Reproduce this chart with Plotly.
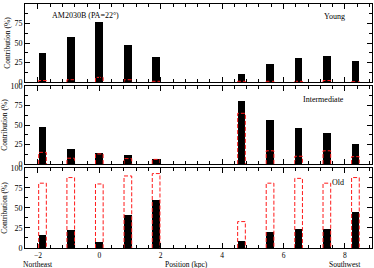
import plotly.graph_objects as go

positions = [-1.85, -0.93, 0.0, 0.93, 1.85, 4.63, 5.56, 6.49, 7.41, 8.34]
young_total = [37, 58, 77, 47, 32, 10, 23, 31, 33, 27]
young_red = [2, 3, 6, 3, 1, 1, 1, 1, 2, 0.5]
inter_total = [47, 19, 14, 12, 6.5, 81, 56, 46, 40, 26]
inter_red = [15, 7.5, 13, 7, 6, 65, 17, 10, 17, 9.5]
old_total = [16, 22, 8, 41, 60, 8.5, 20, 24, 24, 45]
old_red = [81, 88, 80, 90, 93, 33, 81, 87, 81, 88]
panel_labels = ["Young", "Intermediate", "Old"]
y_ticks = [0, 25, 50, 75, 100]
x_ticks = [-2, 0, 2, 4, 6, 8]

BAR_W = 0.25
FONT = "Liberation Serif"

fig = go.Figure()
panels = [(young_total, young_red, "x", "y"),
          (inter_total, inter_red, "x2", "y2"),
          (old_total, old_red, "x3", "y3")]

for tot, red, xa, ya in panels:
    fig.add_trace(go.Bar(x=positions, y=tot, width=BAR_W, marker=dict(color="black", line=dict(width=0)),
                         xaxis=xa, yaxis=ya, showlegend=False))
    xs, ys = [], []
    for p, v in zip(positions, red):
        xs += [p - BAR_W / 2, p - BAR_W / 2, p + BAR_W / 2, p + BAR_W / 2, None]
        ys += [0, v, v, 0, None]
    fig.add_trace(go.Scatter(x=xs, y=ys, mode="lines", line=dict(color="#ff1a1a", width=1, dash="4px,2px"),
                             xaxis=xa, yaxis=ya, showlegend=False, hoverinfo="skip"))

domains = [[0.680, 1.0], [0.344, 0.664], [0.0, 0.328]]
common_x = dict(range=[-2.42, 8.88], tickvals=x_ticks, ticks="inside", ticklen=5, tickcolor="black",
                showline=True, linecolor="black", linewidth=1, mirror="allticks", showgrid=False, zeroline=False,
                automargin=False,
                minor=dict(dtick=0.4, tick0=0, ticks="inside", ticklen=3, tickcolor="black"))
common_y = dict(range=[0, 100], tickvals=y_ticks, ticks="inside", ticklen=5, tickcolor="black",
                showline=True, linecolor="black", linewidth=1, mirror="allticks", showgrid=False, zeroline=False,
                automargin=False,
                minor=dict(dtick=12.5, ticks="inside", ticklen=3, tickcolor="black"),
                tickfont=dict(size=8, family=FONT, color="black"),
                title=dict(text="Contribution (%)", font=dict(size=7.5, family=FONT, color="black"), standoff=2))

layout = dict(width=374, height=268, margin=dict(l=25, r=2, t=4, b=20, autoexpand=False),
              plot_bgcolor="white", paper_bgcolor="white", bargap=0,
              font=dict(family=FONT, color="black"))
for i, (xa, ya) in enumerate([("xaxis", "yaxis"), ("xaxis2", "yaxis2"), ("xaxis3", "yaxis3")]):
    xd = dict(common_x, domain=[0, 1], anchor="y" if i == 0 else f"y{i+1}")
    if i < 2:
        xd["showticklabels"] = False
    else:
        xd["tickfont"] = dict(size=7.5, family=FONT, color="black")
    yd = dict(common_y, domain=domains[i], anchor="x" if i == 0 else f"x{i+1}")
    layout[xa] = xd
    layout[ya] = yd
fig.update_layout(**layout)

annots = [
    dict(text="AM2030B (PA=22°)", x=0.072, y=0.951, xref="paper", yref="paper", xanchor="left", yanchor="middle", font=dict(size=8)),
    dict(text=panel_labels[0], x=0.928, y=0.947, xref="paper", yref="paper", xanchor="right", yanchor="middle", font=dict(size=8)),
    dict(text=panel_labels[1], x=0.925, y=0.607, xref="paper", yref="paper", xanchor="right", yanchor="middle", font=dict(size=8)),
    dict(text=panel_labels[2], x=0.925, y=0.27, xref="paper", yref="paper", xanchor="right", yanchor="middle", font=dict(size=8)),
    dict(text="Position (kpc)", x=0.465, y=-0.068, xref="paper", yref="paper", xanchor="center", yanchor="middle", font=dict(size=7.5)),
    dict(text="Northeast", x=-2, y=-0.068, xref="x3", yref="paper", xanchor="center", yanchor="middle", font=dict(size=7.5)),
    dict(text="Southwest", x=8, y=-0.068, xref="x3", yref="paper", xanchor="center", yanchor="middle", font=dict(size=7.5)),
]
for a in annots:
    a["showarrow"] = False
    a["font"] = dict(a["font"], family=FONT, color="black")
    fig.add_annotation(**a)

fig.write_html("out.html", config={"displayModeBar": False},
               post_script="document.body.style.margin='0';")
